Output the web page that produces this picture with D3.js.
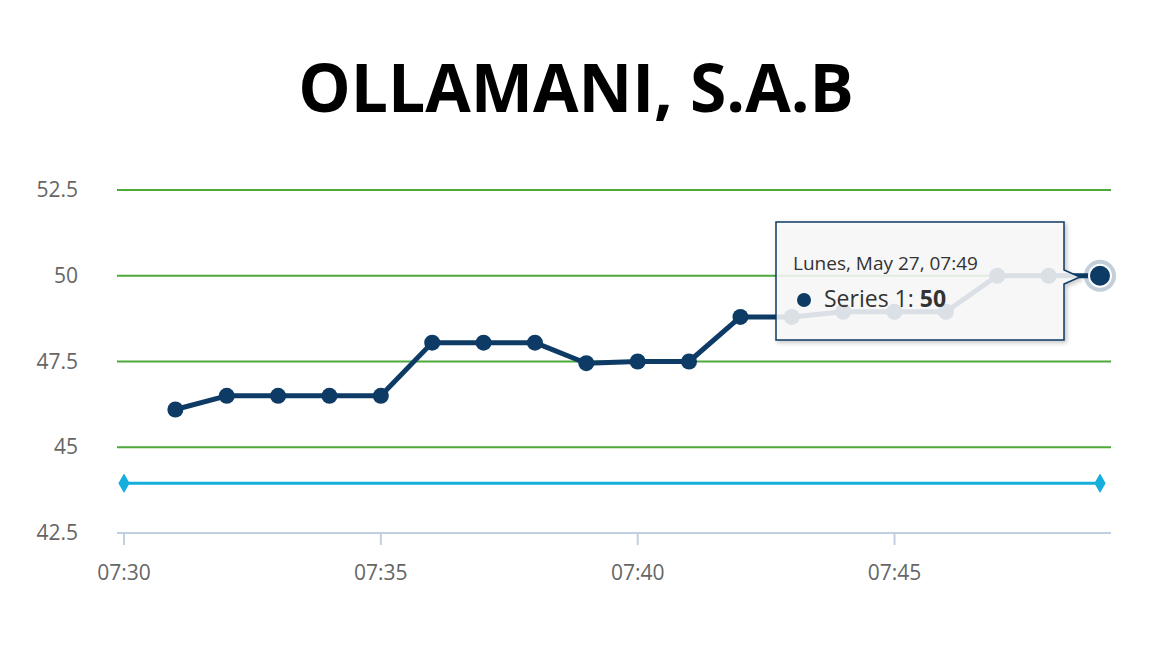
<!DOCTYPE html>
<html><head><meta charset="utf-8">
<script src="https://cdn.jsdelivr.net/npm/d3@7"></script>
<style>body{margin:0;background:#fff}</style></head>
<body><svg id="c" width="1152" height="648"></svg>
<script>
const times = ["07:31","07:32","07:33","07:34","07:35","07:36","07:37","07:38","07:39","07:40","07:41","07:42","07:43","07:44","07:45","07:46","07:47","07:48","07:49"];
const values = [46.1,46.5,46.5,46.5,46.5,48.05,48.05,48.05,47.45,47.5,47.5,48.8,48.8,48.95,48.95,48.95,50,50,50];
const refTimes = ["07:30","07:49"];
const refValues = [43.95,43.95];
const yTicks = [42.5,45,47.5,50,52.5];
const xTicks = ["07:30","07:35","07:40","07:45"];
const mins = t => { const [h,m]=t.split(":").map(Number); return h*60+m; };
const svg = d3.select("#c");
const x = d3.scaleLinear().domain([mins("07:30"), mins("07:49")]).range([124, 1100]);
const y = d3.scaleLinear().domain([42.5,52.5]).range([533,190]);
svg.append("text").attr("x",576).attr("y",112).attr("text-anchor","middle")
  .attr("font-family","Open Sans").attr("font-weight","bold").attr("font-size",66).text("OLLAMANI, S.A.B");
yTicks.slice(1).forEach(v=>svg.append("line").attr("x1",117).attr("x2",1111).attr("y1",y(v)).attr("y2",y(v)).attr("stroke","#4ca93a").attr("stroke-width",2));
yTicks.forEach(v=>svg.append("text").attr("x",78).attr("y",y(v)+7).attr("text-anchor","end")
  .attr("font-family","Open Sans").attr("font-size",21).attr("fill","#666").text(v));
svg.append("line").attr("x1",117).attr("x2",1111).attr("y1",533).attr("y2",533).attr("stroke","#c0d0e0").attr("stroke-width",2);
xTicks.forEach(t=>{
  svg.append("line").attr("x1",x(mins(t))).attr("x2",x(mins(t))).attr("y1",533).attr("y2",545).attr("stroke","#c0d0e0").attr("stroke-width",2);
  svg.append("text").attr("x",x(mins(t))).attr("y",580).attr("text-anchor","middle")
    .attr("font-family","Open Sans").attr("font-size",21).attr("fill","#666").text(t);
});
const ln = d3.line().x(d=>x(mins(d[0]))).y(d=>y(d[1]));
const ref = refTimes.map((t,i)=>[t,refValues[i]]);
svg.append("path").attr("d",ln(ref)).attr("fill","none").attr("stroke","#16aedc").attr("stroke-width",3);
ref.forEach(d=>svg.append("path").attr("d",d3.symbol(d3.symbolDiamond,110)()).attr("fill","#16aedc")
  .attr("transform",`translate(${x(mins(d[0]))},${y(d[1])})`));
const data = times.map((t,i)=>[t,values[i]]);
svg.append("path").attr("d",ln(data)).attr("fill","none").attr("stroke","#0d3b66").attr("stroke-width",5).attr("stroke-linejoin","round");
data.forEach((d,i)=>svg.append("circle").attr("cx",x(mins(d[0]))).attr("cy",y(d[1])).attr("r",i==data.length-1?0:8).attr("fill","#0d3b66"));
const last=data[data.length-1];
const g=svg.append("g");
g.append("path").attr("d","M776,222 H1064 V270 L1080,277 L1064,284 V340 H776 Z").attr("fill","white").attr("fill-opacity",0.85)
  .attr("stroke","#0d3b66").attr("stroke-width",1.5).style("filter","drop-shadow(2px 2px 2px rgba(0,0,0,0.25))");
g.append("text").attr("x",793).attr("y",270).attr("font-family","Open Sans").attr("font-size",19).attr("fill","#333").text("Lunes, May 27, 07:49");
g.append("circle").attr("cx",804).attr("cy",300).attr("r",7).attr("fill","#0d3b66");
const tt=g.append("text").attr("x",824).attr("y",307).attr("font-family","Open Sans").attr("font-size",23).attr("fill","#333");
tt.append("tspan").text("Series 1: ");
tt.append("tspan").attr("font-weight","bold").text(last[1]);
svg.append("circle").attr("cx",x(mins(last[0]))).attr("cy",y(last[1])).attr("r",16).attr("fill","#0d3b66").attr("fill-opacity",0.25);
svg.append("circle").attr("cx",x(mins(last[0]))).attr("cy",y(last[1])).attr("r",11).attr("fill","#0d3b66").attr("stroke","white").attr("stroke-width",2);
</script></body></html>
